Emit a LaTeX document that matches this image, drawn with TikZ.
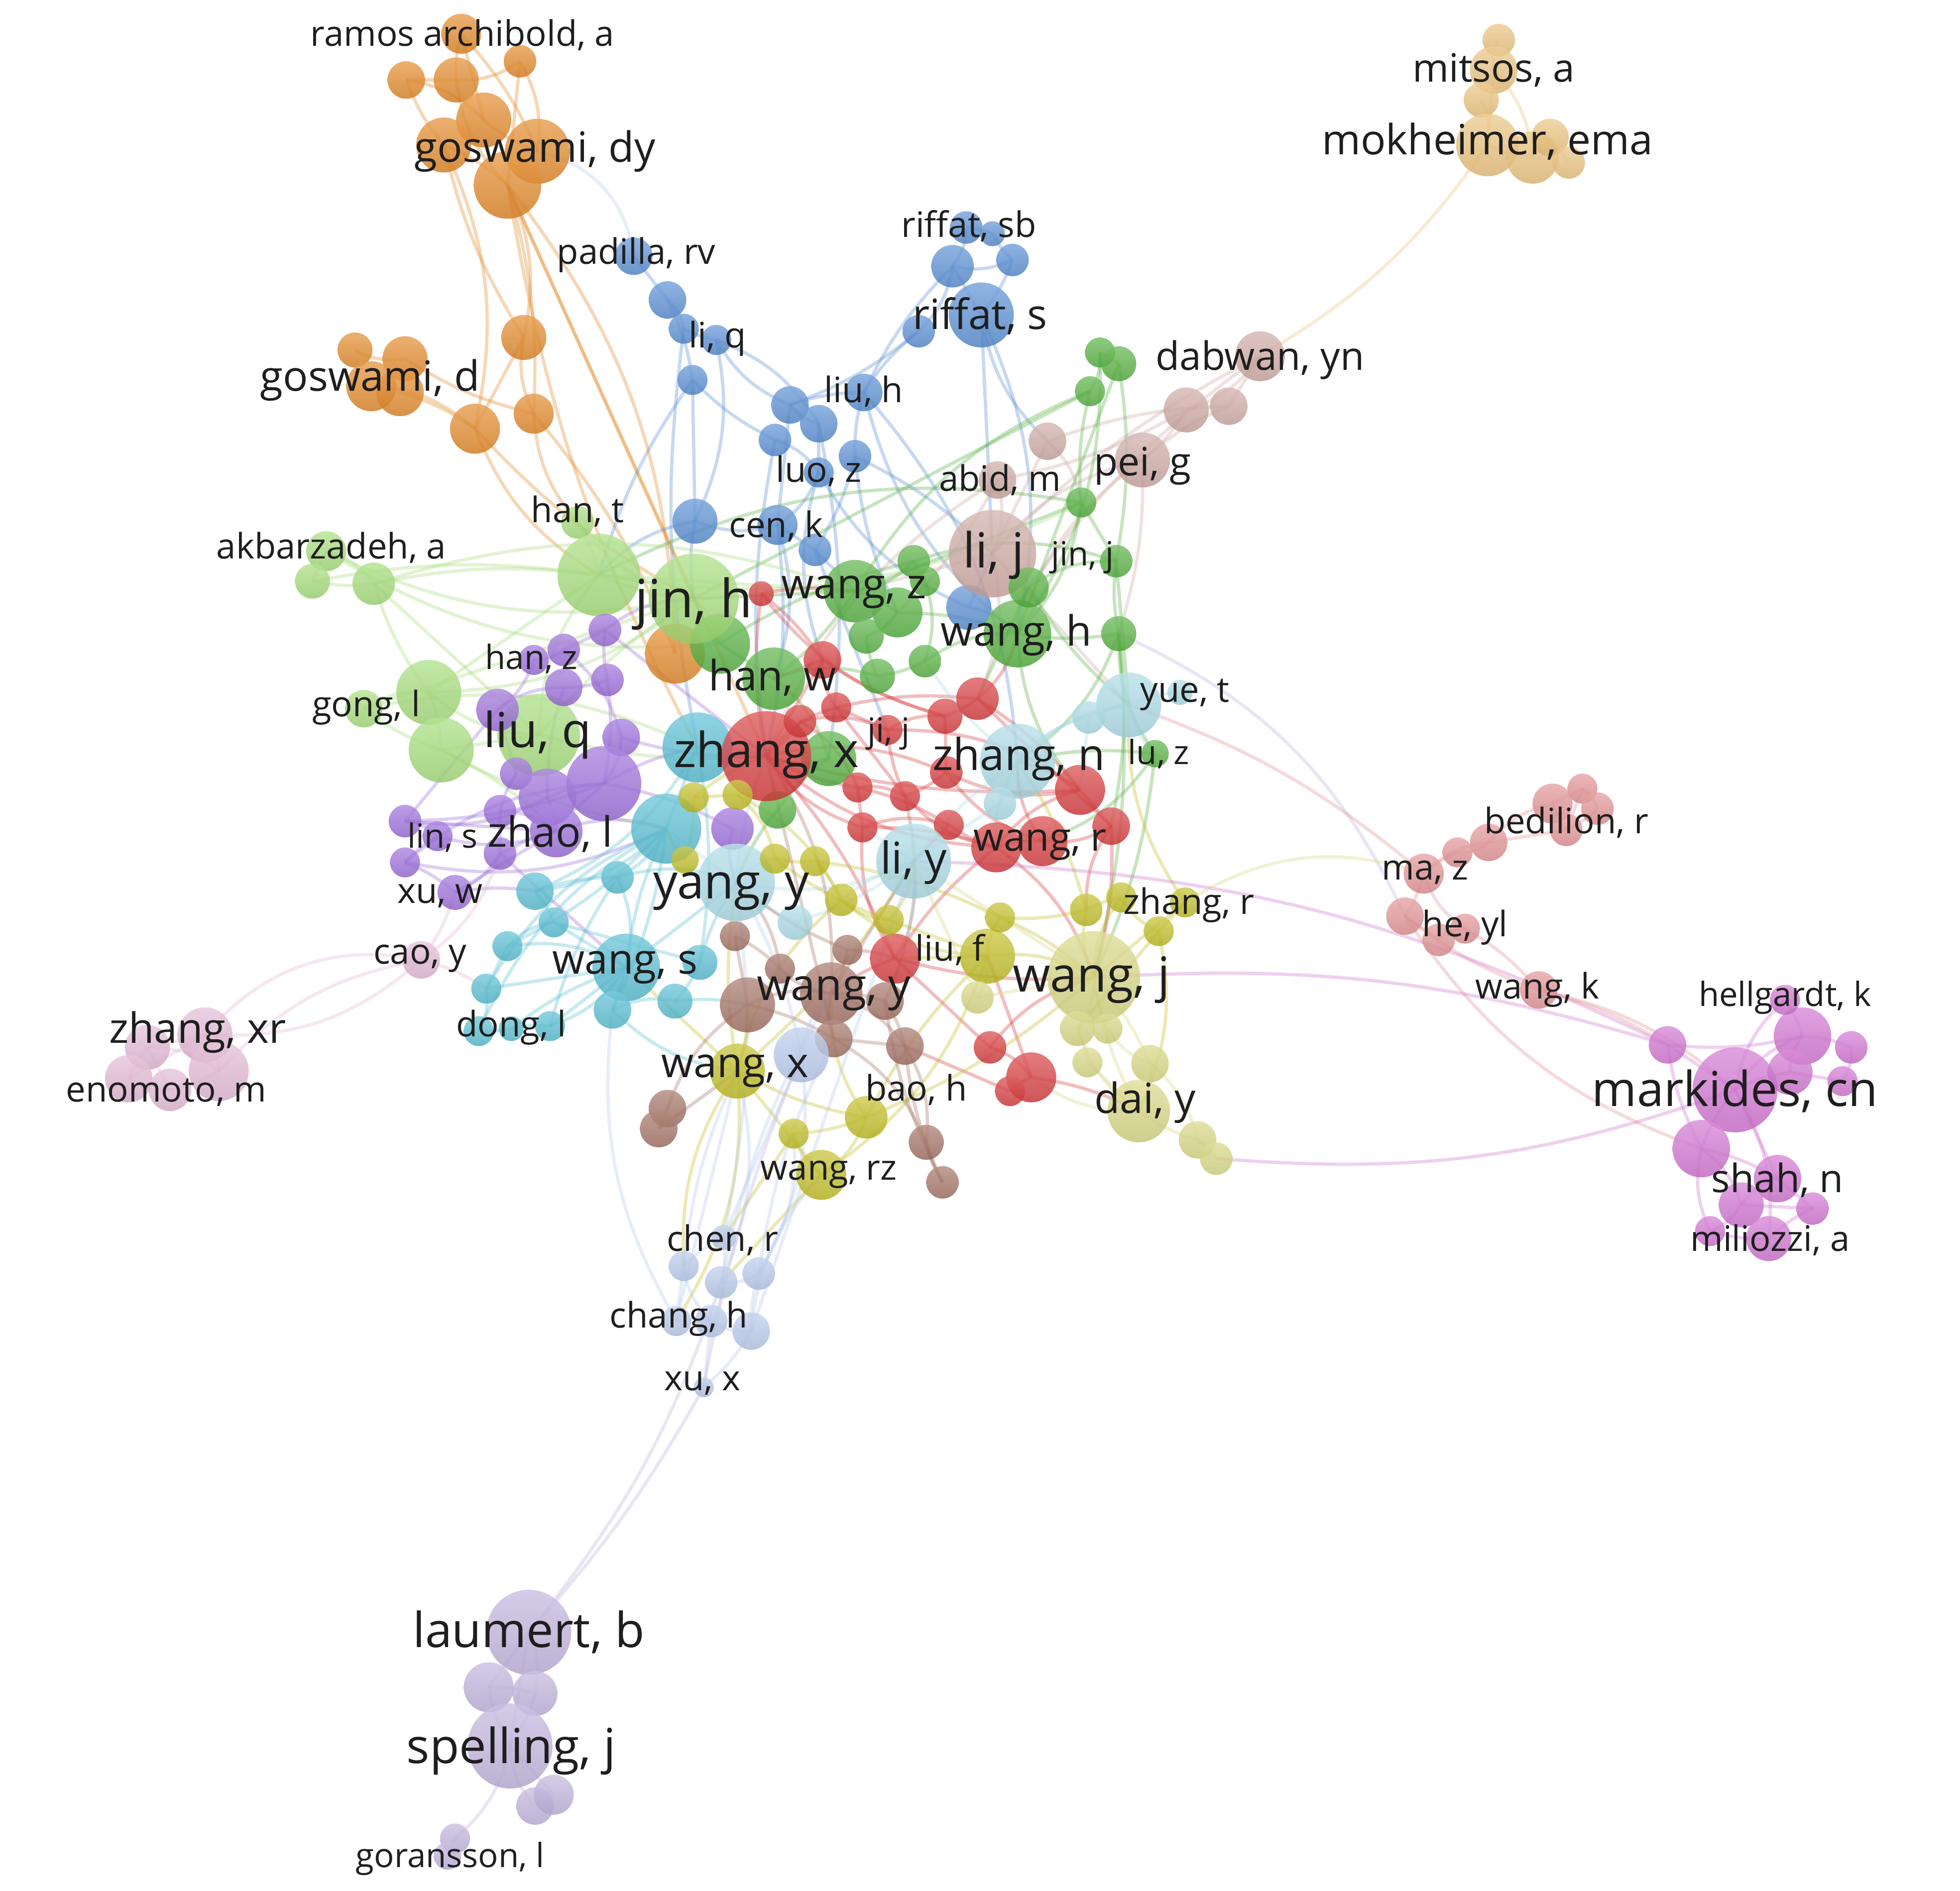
\documentclass[tikz,border=0pt]{standalone}
\usepackage{fontspec}
\setmainfont{Open Sans}
\usetikzlibrary{calc}
\pgfdeclarelayer{edgelayer}
\pgfsetlayers{edgelayer,main}
\definecolor{cRed}{RGB}{214,52,54}
\definecolor{cGreen}{RGB}{80,174,58}
\definecolor{cBlue}{RGB}{82,138,210}
\definecolor{cOlive}{RGB}{192,188,30}
\definecolor{cPurple}{RGB}{152,104,218}
\definecolor{cCyan}{RGB}{82,188,210}
\definecolor{cOrange}{RGB}{226,132,32}
\definecolor{cBrown}{RGB}{160,108,94}
\definecolor{cPink}{RGB}{226,182,212}
\definecolor{cLgreen}{RGB}{162,220,118}
\definecolor{cLblue}{RGB}{168,218,230}
\definecolor{cLyellow}{RGB}{214,214,126}
\definecolor{cLbrown}{RGB}{204,166,160}
\definecolor{cSalmon}{RGB}{226,142,144}
\definecolor{cMagenta}{RGB}{208,110,208}
\definecolor{cLav}{RGB}{190,176,220}
\definecolor{cTan}{RGB}{234,192,120}
\definecolor{cPblue}{RGB}{182,200,236}
\definecolor{txt}{RGB}{30,30,30}
\tikzset{
  bub/.style={circle, inner sep=0pt, top color=#1!78!white, bottom color=#1!92!black, fill opacity=0.82, draw=none},
  lab/.style={inner sep=0pt, text=txt, text opacity=1},
  tA/.style={lab, font=\fontsize{12}{12}\selectfont},
  tB/.style={lab, font=\fontsize{11}{11}\selectfont},
  tC/.style={lab, font=\fontsize{10}{10}\selectfont},
  tD/.style={lab, font=\fontsize{9.5}{9.5}\selectfont},
  tE/.style={lab, font=\fontsize{8.9}{8.9}\selectfont},
  tF/.style={lab, font=\fontsize{8}{8}\selectfont},
  tG/.style={lab, font=\fontsize{7.6}{7.6}\selectfont},
  edge/.style={line width=0.75pt, draw opacity=0.32},
}
\newcommand{\nb}[5]{\node[bub=#2, minimum size=#3*0.2mm] (#1) at (#4,#5) {};}
\newcommand{\edgeset}[2]{\foreach \p/\q [count=\i] in {#2} {\pgfmathtruncatemacro\bnd{mod(\i*7,5)*9-18}\draw[edge, draw=#1] (\p.center) to[bend left=\bnd] (\q.center);}}
\begin{document}
\begin{tikzpicture}[x=0.1mm, y=-0.1mm]
\useasboundingbox (0,0) rectangle (1568,1513);
% ---------- orange
\nb{or1}{cOrange}{15}{325}{64}
\nb{or2}{cOrange}{18}{365}{64}
\nb{or3}{cOrange}{16}{369}{27}
\nb{or4}{cOrange}{13}{416}{49}
\nb{or5}{cOrange}{22}{387}{96}
\nb{or6}{cOrange}{22}{355}{116}
\nb{or7}{cOrange}{26}{430}{121}
\nb{or8}{cOrange}{27}{406}{148}
\nb{or9}{cOrange}{18}{419}{270}
\nb{or10}{cOrange}{16}{427}{331}
\nb{or11}{cOrange}{20}{380}{343}
\nb{or12}{cOrange}{14}{284}{280}
\nb{or13}{cOrange}{18}{324}{287}
\nb{or14}{cOrange}{20}{297}{309}
\nb{or15}{cOrange}{19}{320}{314}
\nb{or16}{cOrange}{24}{540}{523}
% ---------- tan
\nb{tn1}{cTan}{13}{1199}{32}
\nb{tn2}{cTan}{19}{1195}{56}
\nb{tn3}{cTan}{14}{1185}{80}
\nb{tn4}{cTan}{25}{1190}{116}
\nb{tn5}{cTan}{21}{1226}{126}
\nb{tn6}{cTan}{15}{1240}{110}
\nb{tn7}{cTan}{13}{1255}{130}
% ---------- blue
\nb{bl1}{cBlue}{15}{507}{205}
\nb{bl2}{cBlue}{15}{534}{240}
\nb{bl3}{cBlue}{12}{547}{263}
\nb{bl4}{cBlue}{12}{573}{272}
\nb{bl5}{cBlue}{12}{554}{304}
\nb{bl6}{cBlue}{15}{632}{324}
\nb{bl7}{cBlue}{15}{655}{339}
\nb{bl8}{cBlue}{13}{620}{352}
\nb{bl9}{cBlue}{13}{684}{365}
\nb{bl10}{cBlue}{15}{691}{314}
\nb{bl11}{cBlue}{12}{655}{378}
\nb{bl12}{cBlue}{18}{556}{417}
\nb{bl13}{cBlue}{16}{622}{420}
\nb{bl14}{cBlue}{13}{652}{440}
\nb{bl15}{cBlue}{13}{773}{182}
\nb{bl16}{cBlue}{10}{794}{187}
\nb{bl17}{cBlue}{17}{762}{213}
\nb{bl18}{cBlue}{13}{810}{208}
\nb{bl19}{cBlue}{26}{785}{252}
\nb{bl20}{cBlue}{13}{735}{265}
\nb{bl21}{cBlue}{18}{775}{486}
% ---------- light brown
\nb{lbr1}{cLbrown}{35}{794}{443}
\nb{lbr2}{cLbrown}{15}{838}{353}
\nb{lbr3}{cLbrown}{15}{798}{384}
\nb{lbr4}{cLbrown}{22}{914}{368}
\nb{lbr5}{cLbrown}{18}{949}{328}
\nb{lbr6}{cLbrown}{15}{983}{325}
\nb{lbr7}{cLbrown}{20}{1008}{285}
% ---------- green
\nb{gr1}{cGreen}{12}{880}{282}
\nb{gr2}{cGreen}{14}{895}{291}
\nb{gr3}{cGreen}{12}{872}{313}
\nb{gr4}{cGreen}{12}{865}{402}
\nb{gr5}{cGreen}{13}{893}{449}
\nb{gr6}{cGreen}{14}{895}{507}
\nb{gr7}{cGreen}{27}{814}{507}
\nb{gr8}{cGreen}{25}{684}{473}
\nb{gr9}{cGreen}{20}{718}{490}
\nb{gr10}{cGreen}{13}{731}{449}
\nb{gr11}{cGreen}{12}{740}{465}
\nb{gr12}{cGreen}{16}{823}{470}
\nb{gr13}{cGreen}{14}{693}{509}
\nb{gr14}{cGreen}{13}{740}{529}
\nb{gr15}{cGreen}{14}{702}{541}
\nb{gr16}{cGreen}{24}{576}{515}
\nb{gr17}{cGreen}{25}{619}{543}
\nb{gr18}{cGreen}{22}{663}{607}
\nb{gr19}{cGreen}{15}{622}{648}
\nb{gr20}{cGreen}{11}{924}{603}
% ---------- light green
\nb{lg1}{cLgreen}{16}{261}{441}
\nb{lg2}{cLgreen}{14}{250}{465}
\nb{lg3}{cLgreen}{17}{299}{467}
\nb{lg4}{cLgreen}{13}{462}{418}
\nb{lg5}{cLgreen}{33}{479}{460}
\nb{lg6}{cLgreen}{36}{555}{479}
\nb{lg7}{cLgreen}{15}{291}{567}
\nb{lg8}{cLgreen}{26}{343}{554}
\nb{lg9}{cLgreen}{26}{353}{600}
\nb{lg10}{cLgreen}{33}{431}{588}
% ---------- purple
\nb{pu1}{cPurple}{13}{484}{504}
\nb{pu2}{cPurple}{13}{451}{520}
\nb{pu3}{cPurple}{12}{427}{528}
\nb{pu4}{cPurple}{13}{486}{544}
\nb{pu5}{cPurple}{15}{451}{550}
\nb{pu6}{cPurple}{17}{398}{568}
\nb{pu7}{cPurple}{15}{497}{590}
\nb{pu8}{cPurple}{30}{483}{627}
\nb{pu9}{cPurple}{13}{413}{619}
\nb{pu10}{cPurple}{23}{438}{638}
\nb{pu11}{cPurple}{21}{445}{665}
\nb{pu12}{cPurple}{13}{400}{649}
\nb{pu13}{cPurple}{13}{400}{683}
\nb{pu14}{cPurple}{13}{324}{657}
\nb{pu15}{cPurple}{12}{350}{669}
\nb{pu16}{cPurple}{12}{324}{690}
\nb{pu17}{cPurple}{14}{364}{714}
\nb{pu18}{cPurple}{17}{586}{663}
% ---------- cyan
\nb{cy1}{cCyan}{28}{558}{598}
\nb{cy2}{cCyan}{28}{533}{663}
\nb{cy3}{cCyan}{13}{494}{702}
\nb{cy4}{cCyan}{15}{428}{713}
\nb{cy5}{cCyan}{12}{443}{738}
\nb{cy6}{cCyan}{12}{406}{757}
\nb{cy7}{cCyan}{12}{389}{791}
\nb{cy8}{cCyan}{12}{383}{825}
\nb{cy9}{cCyan}{10}{409}{823}
\nb{cy10}{cCyan}{12}{440}{821}
\nb{cy11}{cCyan}{27}{501}{774}
\nb{cy12}{cCyan}{15}{490}{808}
\nb{cy13}{cCyan}{14}{540}{801}
\nb{cy14}{cCyan}{14}{560}{770}
% ---------- red
\nb{rd1}{cRed}{36}{613}{605}
\nb{rd2}{cRed}{10}{609}{475}
\nb{rd3}{cRed}{15}{658}{528}
\nb{rd4}{cRed}{12}{669}{566}
\nb{rd5}{cRed}{13}{640}{577}
\nb{rd6}{cRed}{17}{782}{559}
\nb{rd7}{cRed}{14}{756}{573}
\nb{rd8}{cRed}{12}{710}{584}
\nb{rd9}{cRed}{12}{686}{630}
\nb{rd10}{cRed}{12}{724}{637}
\nb{rd11}{cRed}{13}{757}{618}
\nb{rd12}{cRed}{20}{864}{632}
\nb{rd13}{cRed}{15}{889}{661}
\nb{rd14}{cRed}{12}{690}{662}
\nb{rd15}{cRed}{12}{759}{660}
\nb{rd16}{cRed}{20}{797}{678}
\nb{rd17}{cRed}{20}{834}{673}
\nb{rd18}{cRed}{20}{716}{767}
\nb{rd19}{cRed}{13}{792}{838}
\nb{rd20}{cRed}{20}{825}{862}
\nb{rd21}{cRed}{12}{808}{873}
% ---------- light blue
\nb{lb1}{cLblue}{30}{814}{609}
\nb{lb2}{cLblue}{13}{800}{643}
\nb{lb3}{cLblue}{26}{903}{564}
\nb{lb4}{cLblue}{13}{871}{574}
\nb{lb5}{cLblue}{10}{944}{554}
\nb{lb6}{cLblue}{30}{731}{689}
\nb{lb7}{cLblue}{31}{589}{706}
\nb{lb8}{cLblue}{14}{636}{738}
% ---------- olive
\nb{ol1}{cOlive}{12}{555}{638}
\nb{ol2}{cOlive}{12}{590}{636}
\nb{ol3}{cOlive}{12}{620}{687}
\nb{ol4}{cOlive}{12}{652}{689}
\nb{ol5}{cOlive}{13}{673}{720}
\nb{ol6}{cOlive}{12}{711}{736}
\nb{ol7}{cOlive}{22}{790}{765}
\nb{ol8}{cOlive}{12}{800}{734}
\nb{ol9}{cOlive}{13}{869}{728}
\nb{ol10}{cOlive}{12}{897}{718}
\nb{ol11}{cOlive}{12}{927}{745}
\nb{ol12}{cOlive}{12}{948}{722}
\nb{ol13}{cOlive}{22}{590}{857}
\nb{ol14}{cOlive}{17}{693}{894}
\nb{ol15}{cOlive}{12}{635}{907}
\nb{ol16}{cOlive}{20}{657}{940}
\nb{ol17}{cOlive}{11}{548}{688}
% ---------- light yellow
\nb{ly1}{cLyellow}{37}{875}{782}
\nb{ly2}{cLyellow}{13}{782}{798}
\nb{ly3}{cLyellow}{14}{862}{823}
\nb{ly4}{cLyellow}{12}{886}{823}
\nb{ly5}{cLyellow}{12}{870}{850}
\nb{ly6}{cLyellow}{15}{920}{851}
\nb{ly7}{cLyellow}{25}{911}{889}
\nb{ly8}{cLyellow}{15}{958}{912}
\nb{ly9}{cLyellow}{13}{973}{927}
% ---------- brown
\nb{br1}{cBrown}{12}{588}{749}
\nb{br2}{cBrown}{22}{598}{804}
\nb{br3}{cBrown}{25}{665}{795}
\nb{br4}{cBrown}{12}{678}{760}
\nb{br5}{cBrown}{15}{708}{801}
\nb{br6}{cBrown}{15}{667}{831}
\nb{br7}{cBrown}{15}{724}{837}
\nb{br8}{cBrown}{15}{534}{887}
\nb{br9}{cBrown}{15}{527}{903}
\nb{br10}{cBrown}{14}{741}{914}
\nb{br11}{cBrown}{13}{754}{946}
\nb{br12}{cBrown}{12}{624}{775}
% ---------- pale blue
\nb{pb1}{cPblue}{22}{641}{844}
\nb{pb2}{cPblue}{10}{579}{990}
\nb{pb3}{cPblue}{12}{547}{1013}
\nb{pb4}{cPblue}{13}{577}{1026}
\nb{pb5}{cPblue}{13}{607}{1019}
\nb{pb6}{cPblue}{12}{541}{1057}
\nb{pb7}{cPblue}{13}{569}{1057}
\nb{pb8}{cPblue}{15}{601}{1065}
\nb{pb9}{cPblue}{8}{563}{1110}
% ---------- pink
\nb{pk1}{cPink}{22}{164}{828}
\nb{pk2}{cPink}{18}{118}{838}
\nb{pk3}{cPink}{24}{175}{857}
\nb{pk4}{cPink}{19}{103}{863}
\nb{pk5}{cPink}{17}{136}{872}
\nb{pk6}{cPink}{15}{337}{768}
% ---------- salmon
\nb{sa1}{cSalmon}{12}{1266}{631}
\nb{sa2}{cSalmon}{16}{1242}{643}
\nb{sa3}{cSalmon}{13}{1278}{647}
\nb{sa4}{cSalmon}{13}{1253}{664}
\nb{sa5}{cSalmon}{15}{1191}{674}
\nb{sa6}{cSalmon}{12}{1166}{682}
\nb{sa7}{cSalmon}{16}{1139}{699}
\nb{sa8}{cSalmon}{15}{1124}{733}
\nb{sa9}{cSalmon}{13}{1151}{752}
\nb{sa10}{cSalmon}{12}{1172}{743}
\nb{sa11}{cSalmon}{15}{1231}{792}
% ---------- magenta
\nb{mg1}{cMagenta}{15}{1334}{836}
\nb{mg2}{cMagenta}{34}{1388}{872}
\nb{mg3}{cMagenta}{23}{1442}{829}
\nb{mg4}{cMagenta}{12}{1428}{800}
\nb{mg5}{cMagenta}{13}{1481}{838}
\nb{mg6}{cMagenta}{18}{1432}{858}
\nb{mg7}{cMagenta}{12}{1474}{865}
\nb{mg8}{cMagenta}{23}{1361}{919}
\nb{mg9}{cMagenta}{19}{1422}{943}
\nb{mg10}{cMagenta}{18}{1393}{964}
\nb{mg11}{cMagenta}{13}{1450}{967}
\nb{mg12}{cMagenta}{12}{1368}{985}
\nb{mg13}{cMagenta}{18}{1415}{991}
% ---------- lavender
\nb{lv1}{cLav}{34}{423}{1306}
\nb{lv2}{cLav}{20}{391}{1350}
\nb{lv3}{cLav}{18}{428}{1355}
\nb{lv4}{cLav}{34}{408}{1397}
\nb{lv5}{cLav}{15}{428}{1445}
\nb{lv6}{cLav}{16}{443}{1436}
\nb{lv7}{cLav}{12}{364}{1471}
\nb{lv8}{cLav}{11}{358}{1485}
% ================= edges
\begin{pgfonlayer}{edgelayer}
\fill[white] (0,0) rectangle (1568,1513);
\edgeset{cOrange}{or1/or2,or1/or5,or1/or6,or2/or3,or2/or4,or3/or5,or4/or7,or5/or7,or6/or8,or2/or8,or4/or8,or8/or9,or6/or9,or8/or10,or9/or10,or9/or11,or14/or11,or13/or10,or15/or11,or12/or13,or8/lg6,or8/or16,or11/lg6,or10/or16,or11/lg5,or8/rd1,or6/or11,or8/cy1,or3/or7,or10/lg4}
\edgeset{cTan}{tn4/tn2,tn3/tn4,tn4/tn5,tn5/tn6,tn1/tn2,tn6/tn7,tn2/tn5}
\edgeset{cBlue}{bl1/bl2,bl2/bl3,bl3/bl4,bl2/bl5,bl4/bl6,bl5/bl12,bl4/bl7,bl5/bl8,bl6/bl10,bl6/bl7,bl7/bl11,bl8/bl11,bl10/bl9,bl10/bl20,bl20/bl17,bl17/bl19,bl15/bl17,bl16/bl18,bl18/bl19,bl19/lbr2,bl19/lbr1,bl19/gr7,bl17/bl10,bl20/bl6,bl12/bl13,bl13/bl14,bl11/bl13,bl12/lg6,bl13/rd1,bl11/bl21,bl14/gr8,bl10/lb1,bl8/rd1,bl9/lbr1,bl12/lg5,bl6/bl13,bl4/bl12,bl3/cy1,bl7/gr18,bl10/gr7,bl21/lbr1,bl21/gr7,bl5/lg5,bl9/bl14,bl11/rd3,bl14/rd8,bl13/gr17,bl9/gr9,bl15/bl16,bl17/bl18}
\edgeset{cLbrown}{lbr7/lbr6,lbr7/lbr5,lbr6/lbr4,lbr5/lbr4,lbr4/lbr1,lbr2/lbr1,lbr3/lbr1,lbr6/lbr2,lbr5/lbr3,lbr4/gr7,lbr1/gr8,lbr1/rd6,lbr7/lbr1,lbr4/gr6,lbr3/rd1,lbr1/lb3,lbr2/gr4,lbr7/gr12,lbr3/gr9}
\edgeset{cGreen}{gr1/gr2,gr1/gr3,gr3/gr4,gr2/gr5,gr3/gr8,gr4/gr5,gr4/gr7,gr5/gr6,gr6/gr7,gr6/gr20,gr5/lb3,gr7/gr12,gr7/gr9,gr8/gr9,gr8/gr10,gr10/gr11,gr9/gr13,gr13/gr15,gr14/gr15,gr15/gr17,gr16/gr17,gr17/gr18,gr18/gr19,gr8/gr17,gr7/gr14,gr12/rd6,gr6/lb1,gr20/lb1,gr20/ly1,gr4/lg5,gr4/gr8,gr1/gr7,gr12/lb3,gr6/ly1,gr7/rd12,gr8/lg6,gr18/rd1,gr19/lb7,gr16/lg6,gr5/gr12,gr2/gr7,gr11/gr14,gr10/gr16,gr6/rd13,gr5/gr10,gr3/lg6,gr20/rd17}
\edgeset{cLgreen}{lg1/lg2,lg1/lg3,lg2/lg3,lg3/lg5,lg1/lg6,lg3/lg10,lg7/lg8,lg7/lg9,lg8/lg9,lg8/lg10,lg9/lg10,lg10/lg5,lg5/lg6,lg4/lg5,lg4/lg6,lg5/gr8,lg6/gr16,lg10/rd1,lg9/pu11,lg8/lg6,lg7/lg6,lg3/gr8,lg9/cy2,lg2/lg5,lg1/gr16,lg8/lg5,lg7/cy1,lg3/lg8,lg10/lg6,lg5/gr4}
\edgeset{cPurple}{pu1/pu2,pu2/pu3,pu1/pu4,pu4/pu5,pu5/pu6,pu6/pu9,pu7/pu8,pu8/pu10,pu10/pu11,pu11/pu12,pu12/pu13,pu14/pu15,pu15/pu16,pu16/pu17,pu17/pu13,pu14/pu11,pu16/pu8,pu9/pu12,pu8/pu18,pu18/lb7,pu1/rd1,pu3/pu6,pu14/pu8,pu17/cy4,pu16/cy2,pu13/cy11,pu11/cy2,pu7/rd1,pu8/cy1,pu14/pu10,pu6/pu14,pu2/pu7,pu5/pu10,pu4/pu8,pu15/pu11,pu17/pu11,pu1/lg6,pu13/pu8}
\edgeset{cCyan}{cy1/cy2,cy2/cy3,cy3/cy4,cy4/cy5,cy5/cy6,cy6/cy7,cy7/cy8,cy8/cy9,cy9/cy10,cy10/cy11,cy11/cy12,cy12/cy13,cy13/cy14,cy14/lb7,cy11/cy3,cy5/cy11,cy6/cy11,cy2/cy11,cy1/rd1,cy4/cy2,cy7/cy11,cy3/lb7,cy14/cy1,cy13/br2,cy12/ol13,cy10/lb7,cy8/cy2,cy6/cy2,cy9/cy11,cy4/cy1,cy5/cy14,cy7/cy2,cy12/cy2,cy10/cy3}
\edgeset{cRed}{rd1/rd3,rd1/rd4,rd1/rd5,rd2/rd3,rd3/rd4,rd4/rd8,rd8/rd7,rd7/rd6,rd6/rd12,rd11/rd12,rd12/rd13,rd13/rd17,rd17/rd16,rd16/rd15,rd15/rd14,rd14/rd9,rd9/rd10,rd10/rd11,rd9/rd1,rd14/rd18,rd18/rd19,rd19/rd20,rd20/rd21,rd18/rd16,rd10/rd16,rd7/rd11,rd5/rd9,rd8/rd10,rd1/rd18,rd1/rd14,rd15/lb6,rd17/lb1,rd12/lb1,rd2/gr8,rd6/gr7,rd3/gr17,rd16/ly1,rd18/br3,rd20/ly7,rd13/ol9,rd21/br7,rd1/rd11,rd1/rd12,rd4/rd6,rd2/rd7,rd20/ol7,rd5/rd8,rd3/rd7,rd9/rd15,rd11/rd17,rd6/rd13,rd8/rd12,rd2/rd1,rd14/rd16,rd1/rd16,rd4/rd10,rd19/ly1,rd18/ly1,rd13/ly1,rd12/rd16}
\edgeset{cLblue}{lb1/lb2,lb1/lb3,lb3/lb4,lb3/lb5,lb4/lb1,lb2/lb6,lb6/lb7,lb7/lb8,lb6/lb8,lb1/rd16,lb6/rd14,lb7/ol3,lb6/ol5,lb1/gr14,lb3/gr20,lb7/cy2,lb6/rd18,lb1/lb6,lb7/rd1,lb3/lb1,lb4/rd12}
\edgeset{cOlive}{ol1/ol2,ol2/ol3,ol3/ol4,ol4/ol5,ol5/ol6,ol6/ol7,ol7/ol8,ol8/ol9,ol9/ol10,ol10/ol11,ol11/ol12,ol7/ly1,ol13/ol14,ol14/ol15,ol15/ol16,ol13/ol16,ol14/ol16,ol13/br2,ol13/lb7,ol13/pb3,ol16/pb4,ol14/br3,ol17/ol1,ol17/cy2,ol6/lb6,ol7/rd18,ol13/ol5,ol14/ly1,ol1/rd1,ol9/ly1,ol12/ly1,ol2/ol5,ol3/ol6,ol4/ol8,ol10/ly1,ol11/ly3,ol12/lb3,ol13/lb6,ol14/ol7,ol16/ol7,ol15/pb2,ol13/pb6,ol9/lb1,ol8/ly1,ol5/ol7,ol13/cy11,ol11/ly7}
\edgeset{cLyellow}{ly1/ly2,ly1/ly3,ly1/ly4,ly3/ly5,ly4/ly6,ly5/ly7,ly6/ly7,ly7/ly8,ly8/ly9,ly2/ol7,ly1/lb6,ly7/rd20,ly1/ly7,ly1/ly6,ly3/ly7,ly2/lb6,ly6/ly8}
\edgeset{cBrown}{br1/br2,br2/br3,br3/br4,br3/br5,br3/br6,br6/br7,br7/br10,br10/br11,br5/br7,br2/br8,br8/br9,br3/br12,br12/br1,br4/rd18,br5/rd10,br3/lb6,br6/br10,br7/br11,br2/br6,br3/rd1,br9/ol13,br3/br7,br5/br11,br4/lb7,br12/lb7,br6/rd1}
\edgeset{cPblue}{pb1/pb2,pb1/pb5,pb2/pb3,pb2/pb4,pb4/pb5,pb3/pb6,pb4/pb7,pb5/pb8,pb6/pb7,pb7/pb8,pb7/pb9,pb1/br3,pb1/lb7,pb3/ol13,pb5/ol15,pb8/lb6,pb6/cy12,pb2/lb7,pb4/br3,pb3/pb7,pb6/ol13,pb8/ol16,pb9/pb8,pb5/br6,pb4/ol13}
\edgeset{cLav}{lv1/lv2,lv1/lv3,lv2/lv4,lv3/lv4,lv4/lv5,lv4/lv6,lv4/lv7,lv7/lv8,lv2/lv3,lv5/lv6,lv1/lv4}
\edgeset{cPink}{pk1/pk2,pk1/pk3,pk2/pk4,pk3/pk5,pk4/pk5,pk2/pk5,pk3/pk6,pk6/pu17,pk6/cy7,pk6/pu13,pk1/pk4,pk2/pk3}
\edgeset{cSalmon}{sa1/sa2,sa1/sa3,sa2/sa4,sa3/sa4,sa2/sa5,sa4/sa5,sa5/sa6,sa6/sa7,sa7/sa8,sa7/sa10,sa8/sa9,sa9/sa10,sa8/sa11,sa10/sa11,sa5/sa7,sa1/sa4}
\edgeset{cMagenta}{mg1/mg2,mg2/mg3,mg3/mg4,mg3/mg5,mg3/mg6,mg6/mg7,mg5/mg7,mg2/mg8,mg8/mg9,mg9/mg10,mg10/mg11,mg10/mg12,mg12/mg13,mg13/mg11,mg8/mg12,mg2/mg9,mg2/mg13,mg1/mg8,mg2/mg6,mg4/mg2,mg9/mg11,mg8/mg10,mg1/mg3}
% long connectors
\draw[edge, draw=cTan] (tn4.center) to[bend left=12] (lbr7.center);
\draw[edge, draw=cPblue] (or7.center) to[bend left=35] (bl1.center);
\draw[edge, draw=cLav] (lv1.center) to[bend right=6] (pb9.center);
\draw[edge, draw=cLav] (lv1.center) to[bend right=10] (pb4.center);
\draw[edge, draw=cLav] (pb9.center) to[bend left=6] (pb1.center);
\draw[edge, draw=cPink] (pk1.center) to[bend left=30] (pk6.center);
\draw[edge, draw=cPink] (pk1.center) to[bend right=22] (pk6.center);
\draw[edge, draw=cMagenta] (ly1.center) to[bend left=10] (mg1.center);
\draw[edge, draw=cMagenta] (ly9.center) to[bend right=12] (mg2.center);
\draw[edge, draw=cMagenta] (lb6.center) to[bend left=12] (mg1.center);
\draw[edge, draw=cSalmon] (sa11.center) to[bend left=14] (mg2.center);
\draw[edge, draw=cSalmon] (sa11.center) to[bend left=8] (mg1.center);
\draw[edge, draw=cSalmon] (sa8.center) to[bend right=18] (mg8.center);
\draw[edge, draw=cLav] (gr6.center) to[bend left=20] (sa8.center);
\draw[edge, draw=cLyellow] (ol12.center) to[bend left=25] (sa7.center);
\draw[edge, draw=cSalmon] (sa7.center) to[bend right=10] (lb3.center);
\end{pgfonlayer}
% ================= labels
\node[tF] (lramos) at (370,28) {ramos archibold, a};
\node[tD] (lgosdy) at (428,121) {goswami, dy};
\node[tD] (lgosd) at (296,304) {goswami, d};
\node[tE] (lmitsos) at (1195,56) {mitsos, a};
\node[tD] (lmokh) at (1190,113) {mokheimer, ema};
\node[tF] (lpadilla) at (509,204) {padilla, rv};
\node[tF] (lriffsb) at (775,181) {riffat, sb};
\node[tD] (lriffs) at (784,253) {riffat, s};
\node[tF] (lliq) at (574,271) {li, q};
\node[tF] (lliuh) at (691,313) {liu, h};
\node[tE] (ldabwan) at (1008,288) {dabwan, yn};
\node[tF] (lluoz) at (655,377) {luo, z};
\node[tF] (labid) at (800,384) {abid, m};
\node[tE] (lpeig) at (914,373) {pei, g};
\node[tF] (lhant) at (462,409) {han, t};
\node[tF] (lcenk) at (621,421) {cen, k};
\node[tF] (lakbar) at (265,438) {akbarzadeh, a};
\node[tB] (llij) at (795,444) {li, j};
\node[tG] (ljinj) at (866,446) {jin, j};
\node[tA] (ljinh) at (555,483) {jin, h};
\node[tD] (lwangz) at (683,474) {wang, z};
\node[tD] (lwangh) at (813,508) {wang, h};
\node[tG] (lhanz) at (425,527) {han, z};
\node[tD] (lhanw) at (618,542) {han, w};
\node[tF] (lyuet) at (948,556) {yue, t};
\node[tF] (lgongl) at (293,566) {gong, l};
\node[tB] (lliuq) at (430,588) {liu, q};
\node[tB] (lzhangx) at (613,604) {zhang, x};
\node[tG] (ljij) at (711,587) {ji, j};
\node[tC] (lzhangn) at (815,607) {zhang, n};
\node[tG] (lluz) at (927,603) {lu, z};
\node[tG] (llins) at (354,670) {lin, s};
\node[tD] (lzhaol) at (440,667) {zhao, l};
\node[tE] (lwangr) at (832,676) {wang, r};
\node[tC] (lliy) at (731,690) {li, y};
\node[tB] (lyangy) at (585,713) {yang, y};
\node[tF] (lxuw) at (352,717) {xu, w};
\node[tF] (lzhangr) at (951,724) {zhang, r};
\node[tF] (lliuf) at (760,760) {liu, f};
\node[tF] (lcaoy) at (336,767) {cao, y};
\node[tD] (lwangs) at (500,774) {wang, s};
\node[tB] (lwangj) at (873,784) {wang, j};
\node[tC] (lwangy) at (667,795) {wang, y};
\node[tG] (lhellg) at (1428,798) {hellgardt, k};
\node[tF] (ldongl) at (409,822) {dong, l};
\node[tD] (lzhangxr) at (158,826) {zhang, xr};
\node[tD] (lwangx) at (588,857) {wang, x};
\node[tF] (lbaoh) at (733,872) {bao, h};
\node[tF] (lenomoto) at (133,874) {enomoto, m};
\node[tB] (lmarkides) at (1388,873) {markides, cn};
\node[tD] (ldaiy) at (916,882) {dai, y};
\node[tF] (lwangrz) at (663,940) {wang, rz};
\node[tE] (lshahn) at (1422,944) {shah, n};
\node[tF] (lmiliozzi) at (1416,992) {miliozzi, a};
\node[tF] (lchenr) at (578,992) {chen, r};
\node[tF] (lchangh) at (543,1055) {chang, h};
\node[tF] (lxux) at (562,1107) {xu, x};
\node[tB] (llaumert) at (423,1306) {laumert, b};
\node[tB] (lspelling) at (409,1401) {spelling, j};
\node[tG] (lgoransson) at (360,1487) {goransson, l};
\node[tF] (lbedilion) at (1253,658) {bedilion, r};
\node[tF] (lmaz) at (1140,698) {ma, z};
\node[tF] (lheyl) at (1172,742) {he, yl};
\node[tF] (lwangk) at (1230,792) {wang, k};
\end{tikzpicture}
\end{document}
